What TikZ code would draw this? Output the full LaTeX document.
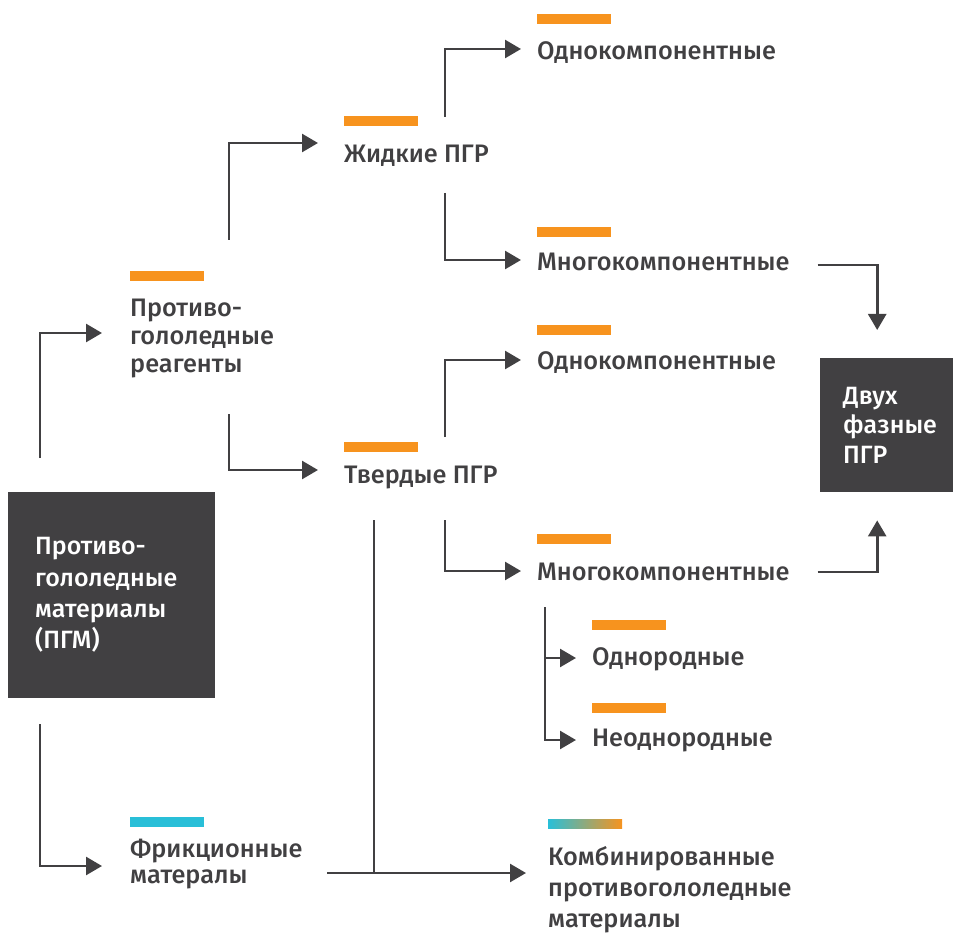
\documentclass[tikz,border=0pt]{standalone}
\usepackage{fontspec}
\setmainfont{Fira Sans}[UprightFont={* Medium}]
\usepackage{xcolor}
\usetikzlibrary{arrows.meta,positioning}

\definecolor{ink}{HTML}{414042}
\definecolor{pgrOrange}{HTML}{F7931E}
\definecolor{pgrCyan}{HTML}{29BFD8}

\begin{document}
\begin{tikzpicture}[
    x=1pt, y=-1pt,
    tag/.style={inner sep=0pt, anchor=base west, align=left, text=ink, font=\fontsize{25.3}{27}\selectfont},
    bar/.style={rectangle, fill=pgrOrange, minimum width=74pt, minimum height=9.5pt, inner sep=0pt},
    darkbox/.style={rectangle, fill=ink, text=white, align=left, inner ysep=0pt, anchor=north west},
    arrow/.style={draw=ink, line width=2.6pt, -{Triangle[length=16pt, width=18pt]}},
    link/.style={draw=ink, line width=2.6pt}
  ]
    \useasboundingbox (0,0) rectangle (953,933);

    % Dark boxes
    \node[darkbox, minimum width=207pt, minimum height=206pt, inner xsep=27pt, text width=153pt,
          font=\fontsize{25}{31.3}\selectfont] (pgm) at (8,492)
          {Противо-\\гололедные\\материалы\\(ПГМ)};
    \node[darkbox, minimum width=133pt, minimum height=134pt, inner xsep=23pt, text width=87pt,
          font=\fontsize{25}{29.5}\selectfont] (dvuh) at (820,358)
          {Двух\\фазные\\ПГР};

    % Labels (base = last line)
    \node[tag, font=\fontsize{25.3}{28}\selectfont] (reag) at (130,372) {Противо-\\гололедные\\реагенты};
    \node[tag, font=\fontsize{25.3}{26}\selectfont] (frik) at (130,883) {Фрикционные\\матералы};
    \node[tag] (zhid) at (344,163) {Жидкие ПГР};
    \node[tag] (tverd) at (344,483) {Твердые ПГР};
    \node[tag] (odn1) at (537,60) {Однокомпонентные};
    \node[tag] (mnog1) at (537,271) {Многокомпонентные};
    \node[tag] (odn2) at (537,369) {Однокомпонентные};
    \node[tag] (mnog2) at (537,580) {Многокомпонентные};
    \node[tag] (odnor) at (592,665) {Однородные};
    \node[tag] (neodn) at (592,746) {Неоднородные};
    \node[tag, font=\fontsize{25.3}{31}\selectfont] (komb) at (548,927) {Комбинированные\\противогололедные\\материалы};

    % Bars over the labels
    \node[bar, above=91pt of reag.base west, anchor=south west] (reag-bar) {};
    \node[bar, fill=pgrCyan, above=56pt of frik.base west, anchor=south west] (frik-bar) {};
    \node[bar, above=37pt of zhid.base west, anchor=south west] (zhid-bar) {};
    \node[bar, above=31pt of tverd.base west, anchor=south west] (tverd-bar) {};
    \node[bar, above=36pt of odn1.base west, anchor=south west] (odn1-bar) {};
    \node[bar, above=34pt of mnog1.base west, anchor=south west] (mnog1-bar) {};
    \node[bar, above=34pt of odn2.base west, anchor=south west] (odn2-bar) {};
    \node[bar, above=36pt of mnog2.base west, anchor=south west] (mnog2-bar) {};
    \node[bar, above=35pt of odnor.base west, anchor=south west] (odnor-bar) {};
    \node[bar, above=33pt of neodn.base west, anchor=south west] (neodn-bar) {};
    \node[bar, left color=pgrCyan, right color=pgrOrange, above=98pt of komb.base west, anchor=south west] (komb-bar) {};

    % PGM branches
    \draw[arrow] ([shift={(32,-34)}]pgm.north west) |- ([shift={(-28,-39)}]reag.base west);
    \draw[arrow] ([shift={(32,26)}]pgm.south west) |- ([shift={(-28,-17)}]frik.base west);

    % Reagent branches
    \draw[arrow] ([shift={(99,-132)}]reag.base west) |- ([shift={(-26,-20)}]zhid.base west);
    \draw[arrow] ([shift={(99,42)}]reag.base west) |- ([shift={(-26,-13)}]tverd.base west);

    % Liquid and solid
    \draw[arrow] ([shift={(101,-46)}]zhid.base west) |- ([shift={(-16,-11)}]odn1.base west);
    \draw[arrow] ([shift={(101,30)}]zhid.base west) |- ([shift={(-16,-11)}]mnog1.base west);
    \draw[arrow] ([shift={(101,-46)}]tverd.base west) |- ([shift={(-16,-9)}]odn2.base west);
    \draw[arrow] ([shift={(101,37)}]tverd.base west) |- ([shift={(-16,-9)}]mnog2.base west);

    % Two-phase
    \draw[arrow] ([shift={(28,-6)}]mnog1.base east) -| ([shift={(-9.5,-28)}]dvuh.north);
    \draw[arrow] ([shift={(28,-8)}]mnog2.base east) -| ([shift={(-9.5,28)}]dvuh.south);

    % Homogeneous / heterogeneous
    \draw[arrow] ([shift={(8,27)}]mnog2.base west) |- ([shift={(-16,-7)}]odnor.base west);
    \draw[arrow] ([shift={(8,27)}]mnog2.base west) |- ([shift={(-16,-6)}]neodn.base west);

    % Combined materials
    \draw[link] ([shift={(30,37)}]tverd.base west) -- ++(0,353);
    \draw[arrow] ([shift={(197,-10)}]frik.base west) -- ([shift={(-22,-54)}]komb.base west);

\end{tikzpicture}
\end{document}
